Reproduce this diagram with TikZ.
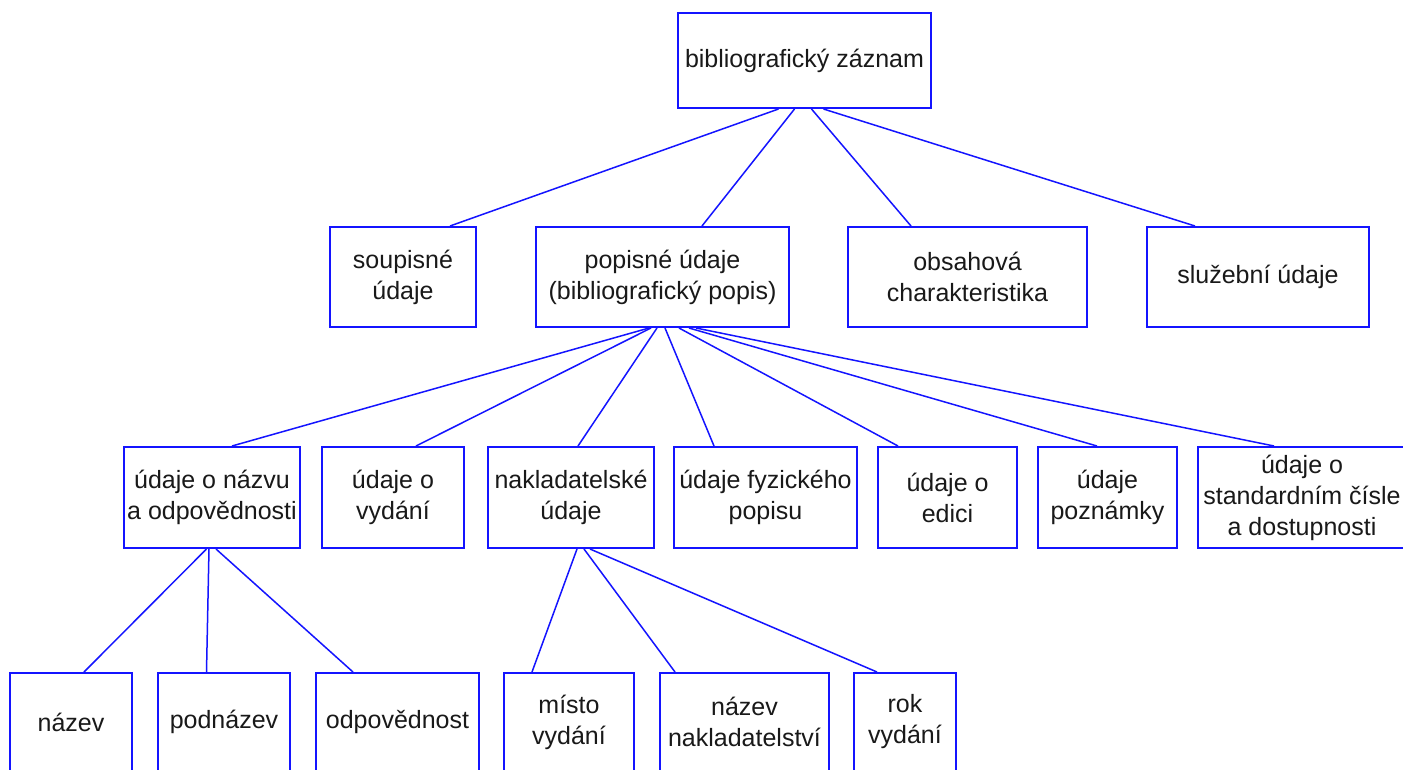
\documentclass[tikz,border=0pt]{standalone}
\usepackage{fontspec}
\setmainfont{Liberation Sans}
\usetikzlibrary{calc}
\definecolor{boxblue}{RGB}{20,20,255}
\definecolor{txt}{RGB}{25,25,25}
\tikzset{
  bx/.style={draw=boxblue, line width=2pt, fill=white, inner sep=0pt, align=center,
    text=txt, font=\fontsize{25}{31}\selectfont},
  conn/.style={draw=boxblue, line width=1.5pt},
}
\newcommand\myconn[4]{\draw[conn] ($(#1.south west)+(#2,0)$) -- ($(#3.north west)+(#4,0)$);}
\begin{document}
\begin{tikzpicture}[x=1pt,y=-1pt]
\clip (0,0) rectangle (1403,769);
\fill[white] (0,0) rectangle (1403,769);
% level 1
\node[bx, minimum width=253pt, minimum height=95pt] (top) at (804.5,60.5) {bibliografický záznam};
% level 2
\node[bx, minimum width=146pt, minimum height=100pt] (soup) at (403,277) {soupisné\\údaje};
\node[bx, minimum width=253pt, minimum height=100pt] (popis) at (662.5,277) {popisné údaje\\(bibliografický popis)};
\node[bx, minimum width=239pt, minimum height=100pt] (obsah) at (967.5,277) {obsahová\\charakteristika};
\node[bx, minimum width=222pt, minimum height=100pt] (sluz) at (1258,277) {služební údaje};
% level 3
\node[bx, minimum width=176pt, minimum height=101pt] (nodp) at (212,497.5) {údaje o názvu\\a odpovědnosti};
\node[bx, minimum width=142pt, minimum height=101pt] (vyd) at (393,497.5) {údaje o\\vydání};
\node[bx, minimum width=166pt, minimum height=101pt] (nakl) at (571,497.5) {nakladatelské\\údaje};
\node[bx, minimum width=183pt, minimum height=101pt] (fyz) at (765.5,497.5) {údaje fyzického\\popisu};
\node[bx, minimum width=139pt, minimum height=101pt] (edi) at (947.5,497.5) {údaje o\\edici};
\node[bx, minimum width=139pt, minimum height=101pt] (pozn) at (1107.5,497.5) {údaje\\poznámky};
\node[bx, minimum width=208pt, minimum height=101pt] (isbn) at (1302,497.5) {údaje o\\standardním čísle\\a dostupnosti};
% level 4
\node[bx, minimum width=122pt, minimum height=98pt] (naz) at (71,722) {název};
\node[bx, minimum width=132pt, minimum height=98pt] (podn) at (224,722) {podnázev};
\node[bx, minimum width=163pt, minimum height=98pt] (odp) at (397.5,722) {odpovědnost};
\node[bx, minimum width=130pt, minimum height=98pt] (mist) at (569,722) {místo\\vydání};
\node[bx, minimum width=169pt, minimum height=98pt] (nnakl) at (744.5,722) {název\\nakladatelství};
\node[bx, minimum width=102pt, minimum height=98pt] (rok) at (905,722) {rok\\vydání};
% connectors
\myconn{top}{101.5}{soup}{121}
\myconn{top}{117.5}{popis}{167}
\myconn{top}{134.5}{obsah}{64}
\myconn{top}{146.5}{sluz}{49}
\myconn{popis}{114}{nodp}{109}
\myconn{popis}{116}{vyd}{95}
\myconn{popis}{122}{nakl}{91}
\myconn{popis}{130}{fyz}{41}
\myconn{popis}{144}{edi}{21}
\myconn{popis}{154}{pozn}{60}
\myconn{popis}{161}{isbn}{77}
\myconn{nodp}{83.5}{naz}{75}
\myconn{nodp}{86}{podn}{49.5}
\myconn{nodp}{93}{odp}{38}
\myconn{nakl}{90}{mist}{29}
\myconn{nakl}{97}{nnakl}{16}
\myconn{nakl}{103}{rok}{24}
\end{tikzpicture}
\end{document}
